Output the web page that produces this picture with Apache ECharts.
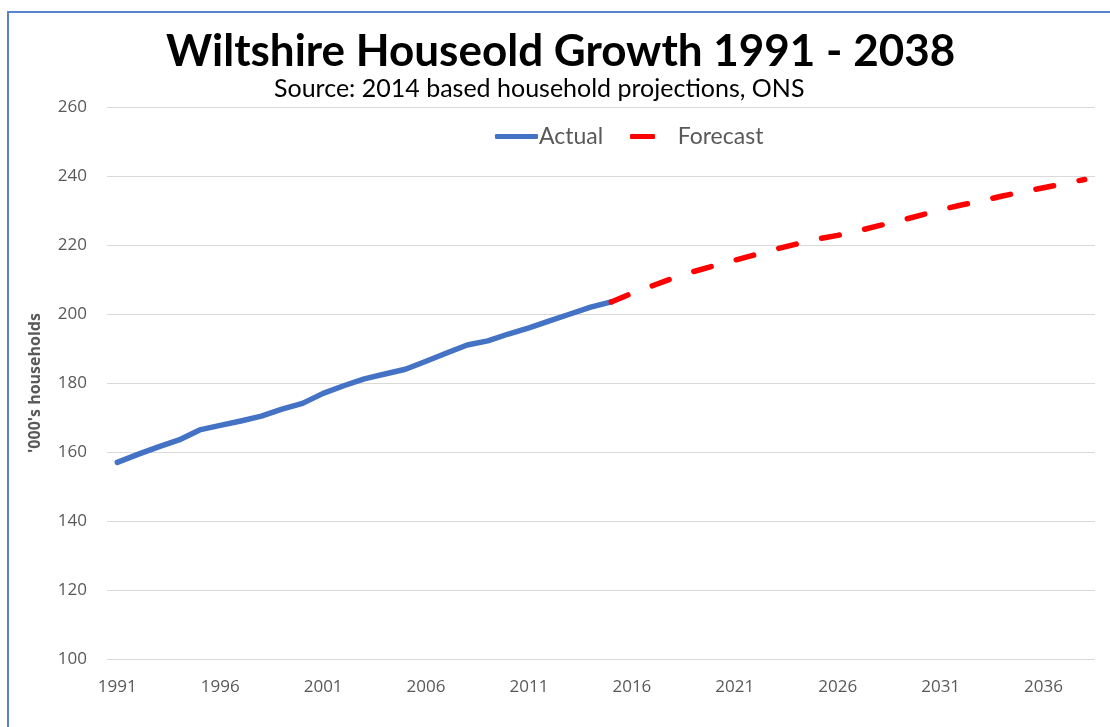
<!DOCTYPE html>
<html>
<head>
<meta charset="utf-8">
<script src="https://cdn.jsdelivr.net/npm/echarts@6/dist/echarts.min.js"></script>
<style>
html,body{margin:0;padding:0;background:#fff;}
#chart{width:1110px;height:727px;}
</style>
</head>
<body>
<div id="chart"></div>
<script>
const years = [];
for (let y = 1991; y <= 2038; y++) years.push(String(y));

const actualValues = [
  157.0, 159.3, 161.5, 163.5, 166.4, 167.7, 169.0, 170.4, 172.4, 174.1,
  177.0, 179.2, 181.2, 182.6, 184.0, 186.3, 188.7, 191.0, 192.2, 194.2,
  196.0, 198.0, 200.0, 202.0, 203.5
]; // 1991-2015

const forecastValues = [
  203.5, 206.0, 208.2, 210.4, 212.3, 214.0, 215.6, 217.2, 218.8, 220.3,
  221.7, 222.8, 224.1, 225.6, 227.0, 228.6, 230.2, 231.6, 232.8, 234.2,
  235.4, 236.6, 237.8, 239.0
]; // 2015-2038

const yTicks = { min: 100, max: 260, interval: 20 };

const forecastData = new Array(actualValues.length - 1).fill('-').concat(forecastValues);

const chart = echarts.init(document.getElementById('chart'));
const txt = '#595959';
chart.setOption({
  backgroundColor: '#ffffff',
  animation: false,
  title: [{
    text: 'Wiltshire Houseold Growth 1991 - 2038',
    left: 161,
    top: 25,
    textStyle: { fontFamily: 'Lato', fontWeight: 'bold', fontSize: 44, color: '#000' }
  }, {
    text: 'Source: 2014 based household projections, ONS',
    left: 269,
    top: 71,
    textStyle: { fontFamily: 'Lato', fontWeight: 'normal', fontSize: 25, color: '#000' }
  }],
  graphic: [{
    type: 'rect',
    shape: { x: 8, y: 12, width: 1200, height: 800 },
    style: { fill: 'none', stroke: '#5B82CC', lineWidth: 2 },
    silent: true
  }],
  legend: [{
    data: ['Actual'],
    left: 490,
    top: 120,
    icon: 'roundRect',
    itemWidth: 43,
    itemHeight: 5,
    textStyle: { fontFamily: 'Lato', fontSize: 23, color: txt, padding: [0, 0, 0, -4] }
  }, {
    data: ['Forecast'],
    left: 625,
    top: 120,
    icon: 'roundRect',
    itemWidth: 25,
    itemHeight: 5,
    formatter: '   Forecast',
    textStyle: { fontFamily: 'Lato', fontSize: 23, color: txt }
  }],
  grid: { left: 107, right: 15, top: 107, bottom: 68 },
  xAxis: {
    type: 'category',
    data: years,
    boundaryGap: true,
    axisLine: { show: false },
    axisTick: { show: false },
    axisLabel: { interval: 4, margin: 20, fontFamily: 'Open Sans', fontSize: 17, color: txt }
  },
  yAxis: {
    type: 'value',
    min: yTicks.min,
    max: yTicks.max,
    interval: yTicks.interval,
    name: "'000's households",
    nameLocation: 'middle',
    nameGap: 64,
    nameRotate: 90,
    nameTextStyle: { fontFamily: 'Open Sans', fontWeight: 'bold', fontSize: 16, color: txt },
    axisLine: { show: false },
    axisTick: { show: false },
    axisLabel: { margin: 20, fontFamily: 'Open Sans', fontSize: 17, color: txt },
    splitLine: { lineStyle: { color: '#D9D9D9', width: 1 } }
  },
  series: [{
    name: 'Actual',
    type: 'line',
    data: actualValues,
    showSymbol: false,
    symbol: 'none',
    itemStyle: { color: '#4472C4' },
    lineStyle: { color: '#4472C4', width: 5.5, cap: 'round', join: 'round' },
    z: 2
  }, {
    name: 'Forecast',
    type: 'line',
    data: forecastData,
    showSymbol: false,
    symbol: 'none',
    itemStyle: { color: '#FF0000' },
    lineStyle: { color: '#FF0000', width: 5.5, type: [18, 26], cap: 'round', join: 'round' },
    z: 3
  }]
});
</script>
</body>
</html>
